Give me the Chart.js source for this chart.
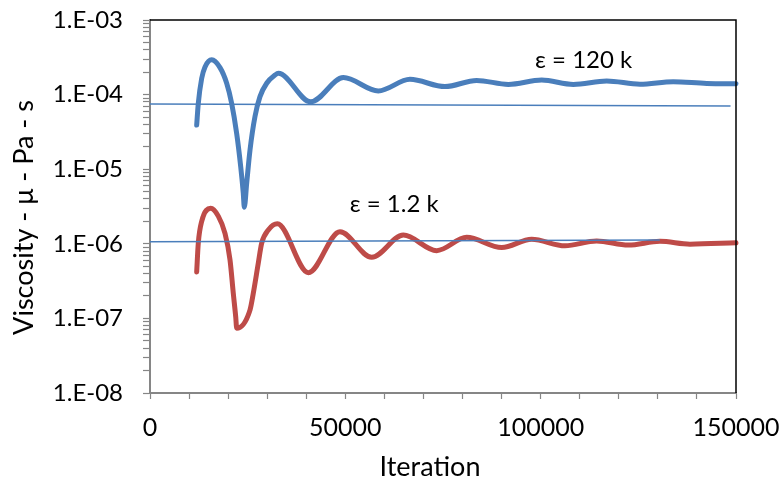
<!DOCTYPE html>
<html>
<head>
<meta charset="utf-8">
<script src="https://cdn.jsdelivr.net/npm/chart.js@4/dist/chart.umd.min.js"></script>
<style>
  html, body { margin: 0; padding: 0; background: #ffffff; }
  #wrap { width: 780px; height: 480px; position: relative; }
</style>
</head>
<body>
<div id="wrap"><canvas id="c" width="780" height="480"></canvas></div>
<script>
// ---- data ----
const blueIter = [11950, 12360, 13230, 14080, 15790, 17920, 19630, 20910, 22190, 23220, 23880, 24140, 24750, 25600, 26880, 28150, 29870, 32000, 32850, 41130, 49500, 58440, 66550, 75510, 83620, 91720, 100260, 108360, 116900, 125420, 133950, 142500, 150000];
const blueVisc = [3.9e-5, 7.6e-5, 1.65e-4, 2.35e-4, 2.93e-4, 2.30e-4, 1.42e-4, 7.6e-5, 3.0e-5, 1.08e-5, 4.75e-6, 3.1e-6, 6.5e-6, 1.81e-5, 5.1e-5, 9.4e-5, 1.42e-4, 1.83e-4, 1.93e-4, 8.0e-5, 1.69e-4, 1.12e-4, 1.60e-4, 1.28e-4, 1.55e-4, 1.37e-4, 1.57e-4, 1.37e-4, 1.52e-4, 1.38e-4, 1.49e-4, 1.41e-4, 1.40e-4];

const redIter = [11950, 12360, 13230, 15540, 17480, 19200, 20480, 21320, 21940, 22190, 25600, 26440, 27720, 28590, 30280, 32600, 40530, 48630, 56750, 64850, 73380, 81060, 90020, 97700, 106230, 114330, 122430, 130540, 138220, 150000];
const redVisc = [4.2e-7, 1.02e-6, 2.0e-6, 3.0e-6, 2.35e-6, 1.38e-6, 6.1e-7, 2.17e-7, 1.05e-7, 7.4e-8, 1.30e-7, 2.17e-7, 5.5e-7, 1.02e-6, 1.53e-6, 1.85e-6, 4.1e-7, 1.45e-6, 6.6e-7, 1.31e-6, 8.1e-7, 1.22e-6, 8.9e-7, 1.15e-6, 9.4e-7, 1.09e-6, 9.6e-7, 1.08e-6, 9.9e-7, 1.03e-6];

const trendHighIter = [0, 148600];
const trendHighVisc = [7.48e-5, 7.03e-5];
const trendLowIter = [0, 130500];
const trendLowVisc = [1.067e-6, 1.125e-6];

const xTickLabels = [0, 50000, 100000, 150000];
const yDecades = [-8, -7, -6, -5, -4, -3];
const yTickLabels = ['1.E-08', '1.E-07', '1.E-06', '1.E-05', '1.E-04', '1.E-03'];
const xTitle = 'Iteration';
const yTitle = 'Viscosity - μ - Pa - s';
const labelHigh = 'ε = 120 k';
const labelLow = 'ε = 1.2 k';

// ---- helpers ----
const pts = (xs, ys) => xs.map((x, i) => ({ x: x, y: ys[i] }));
const FONT = 'Lato, "Open Sans", sans-serif';
const BLUE = '#4A7EBB';
const RED = '#BE4B48';
const AXIS = '#868686';

const annotations = [
  { text: labelHigh, x: 111000, y: 2.30e-4 },
  { text: labelLow, x: 62500, y: 2.69e-6 }
];

function noPad(s) {
  s.paddingLeft = 0; s.paddingRight = 0; s.paddingTop = 0; s.paddingBottom = 0;
}

const framePlugin = {
  id: 'frame',
  afterDatasetsDraw(chart) {
    const a = chart.chartArea;
    const ctx = chart.ctx;
    ctx.save();
    ctx.strokeStyle = '#000000';
    ctx.lineWidth = 1.5;
    ctx.beginPath();
    ctx.moveTo(a.left, a.top);
    ctx.lineTo(a.right, a.top);
    ctx.lineTo(a.right, a.bottom);
    ctx.stroke();
    ctx.restore();
  },
  afterDraw(chart) {
    const ctx = chart.ctx;
    const a = chart.chartArea;
    const xs = chart.scales.x, ys = chart.scales.y;
    ctx.save();
    ctx.fillStyle = '#000000';
    ctx.textAlign = 'center';
    ctx.textBaseline = 'alphabetic';
    ctx.font = '24px ' + FONT;
    annotations.forEach(an => {
      ctx.fillText(an.text, xs.getPixelForValue(an.x), ys.getPixelForValue(an.y));
    });
    // axis titles
    ctx.font = '27px ' + FONT;
    ctx.fillText(xTitle, (a.left + a.right) / 2 - 13, a.bottom + 83);
    ctx.save();
    ctx.translate(33, (a.top + a.bottom) / 2 + 11);
    ctx.rotate(-Math.PI / 2);
    ctx.fillText(yTitle, 0, 0);
    ctx.restore();
    ctx.restore();
  }
};

new Chart(document.getElementById('c'), {
  type: 'line',
  data: {
    datasets: [
      { data: pts(trendHighIter, trendHighVisc), borderColor: BLUE, borderWidth: 1.6, pointRadius: 0, tension: 0, order: 0 },
      { data: pts(trendLowIter, trendLowVisc), borderColor: BLUE, borderWidth: 1.6, pointRadius: 0, tension: 0, order: 1 },
      { data: pts(blueIter, blueVisc), borderColor: BLUE, borderWidth: 5, pointRadius: 0, cubicInterpolationMode: 'monotone', borderCapStyle: 'round', borderJoinStyle: 'round', order: 2 },
      { data: pts(redIter, redVisc), borderColor: RED, borderWidth: 5, pointRadius: 0, cubicInterpolationMode: 'monotone', borderCapStyle: 'round', borderJoinStyle: 'round', order: 3 }
    ]
  },
  options: {
    responsive: false,
    animation: false,
    clip: false,
    layout: { padding: { top: 20, right: 44, left: 0, bottom: 0 } },
    plugins: { legend: { display: false }, tooltip: { enabled: false } },
    scales: {
      x: {
        type: 'linear',
        min: 0, max: 150000,
        afterFit(s) { s.height = 87; noPad(s); },
        ticks: {
          stepSize: 10000,
          autoSkip: false,
          maxRotation: 0,
          color: '#000000',
          font: { family: FONT, size: 25 },
          padding: 14,
          callback: v => xTickLabels.includes(v) ? String(v) : ''
        },
        grid: { display: true, drawOnChartArea: false, drawTicks: true, tickLength: 6, color: AXIS, tickWidth: 1.2 },
        border: { display: true, color: AXIS, width: 2 },
        title: { display: false }
      },
      y: {
        type: 'logarithmic',
        min: 1e-8, max: 1e-3,
        afterFit(s) { s.width = 150; noPad(s); },
        afterBuildTicks(s) {
          const t = [];
          yDecades.forEach((e, i) => {
            const mults = i === yDecades.length - 1 ? [1] : [1, 2, 3, 4, 5, 6, 7, 8, 9];
            mults.forEach(m => t.push({ value: parseFloat((m * Math.pow(10, e)).toPrecision(3)) }));
          });
          s.ticks = t;
        },
        ticks: {
          autoSkip: false,
          color: '#000000',
          font: { family: FONT, size: 24 },
          padding: 20,
          callback: v => {
            const e = Math.round(Math.log10(v));
            if (Math.abs(Math.log10(v) - e) > 1e-6) return '';
            const i = yDecades.indexOf(e);
            return i >= 0 ? yTickLabels[i] : '';
          }
        },
        grid: { display: true, drawOnChartArea: false, drawTicks: true, tickLength: 7, color: AXIS, tickWidth: 1.2 },
        border: { display: true, color: AXIS, width: 2 },
        title: { display: false }
      }
    }
  },
  plugins: [framePlugin]
});
</script>
</body>
</html>
